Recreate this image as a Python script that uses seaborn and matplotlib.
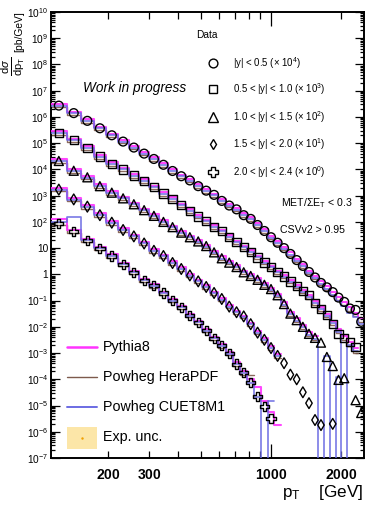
import numpy as np
import matplotlib
matplotlib.use("Agg")
import matplotlib.pyplot as plt
import seaborn as sns
from matplotlib.lines import Line2D
from matplotlib.patches import Rectangle
from matplotlib.ticker import FixedLocator, FixedFormatter, NullFormatter

nan = float("nan")

# ---------------- data ----------------
PT_EDGES = [114, 133, 153, 174, 196, 220, 245, 272, 300, 330, 362, 395, 430, 468, 507,
            548, 592, 638, 686, 737, 790, 846, 905, 967, 1032, 1101, 1172, 1248, 1327,
            1410, 1497, 1588, 1684, 1784, 1890, 2000, 2116, 2238, 2366, 2500]

RAPIDITY_LABELS = ["|y| < 0.5 (× 10$^{4}$)", "0.5 < |y| < 1.0 (× 10$^{3}$)",
                   "1.0 < |y| < 1.5 (× 10$^{2}$)", "1.5 < |y| < 2.0 (× 10$^{1}$)",
                   "2.0 < |y| < 2.4 (× 10$^{0}$)"]
SCALES = [1e4, 1e3, 1e2, 1e1, 1e0]

# measured cross sections, pb/GeV (unscaled)
DATA_Y0 = [2.7e2, 1.4e2, 7.1e1, 3.7e1, 2.0e1, 1.15e1, 6.8, 4.0, 2.5, 1.5, 8.7e-1, 5.5e-1,
           3.8e-1, 2.3e-1, 1.55e-1, 1.07e-1, 6.3e-2, 4.2e-2, 3.0e-2, 1.8e-2, 1.3e-2, 7.6e-3,
           4.5e-3, 2.6e-3, 1.6e-3, 1.0e-3, 6.0e-4, 3.5e-4, 2.1e-4, 1.23e-4, 7.6e-5, 4.7e-5,
           3.2e-5, 2.1e-5, 1.3e-5, 8.9e-6, 5.0e-6, 4.4e-6, 1.55e-6]
DATA_Y1 = [2.5e2, 1.3e2, 6.5e1, 3.1e1, 1.6e1, 1.0e1, 5.8, 3.7, 2.1, 1.2, 7.4e-1, 4.3e-1,
           2.6e-1, 1.6e-1, 1.05e-1, 6.3e-2, 4.4e-2, 2.7e-2, 1.7e-2, 1.1e-2, 7.1e-3, 4.4e-3,
           2.8e-3, 1.9e-3, 1.23e-3, 8.3e-4, 5.4e-4, 3.5e-4, 2.3e-4, 1.6e-4, 8.1e-5, 4.8e-5,
           2.8e-5, 1.3e-5, 5.4e-6, 3.8e-6, 2.6e-6, 1.7e-6]
DATA_Y2 = [2.1e2, 8.9e1, 5.0e1, 2.3e1, 1.3e1, 7.9, 4.7, 2.8, 1.7, 1.0, 6.3e-1, 3.9e-1,
           2.6e-1, 1.8e-1, 1.2e-1, 6.9e-2, 4.1e-2, 2.8e-2, 1.9e-2, 1.2e-2, 8.7e-3, 6.2e-3,
           4.0e-3, 2.75e-3, 1.6e-3, 7.4e-4, 3.2e-4, 1.8e-4, 1.0e-4, 5.4e-5, 3.8e-5, 2.5e-5,
           7.1e-6, 3.2e-6, 9.5e-7, 1.1e-6, nan, 1.6e-7, 5.2e-8]
DATA_Y3 = [1.7e2, 7.2e1, 3.8e1, 1.8e1, 9.3, 4.9, 2.8, 1.5, 7.9e-1, 5.0e-1, 2.7e-1, 1.6e-1,
           9.1e-2, 5.4e-2, 3.3e-2, 1.95e-2, 1.15e-2, 5.9e-3, 3.6e-3, 2.5e-3, 1.26e-3, 6.0e-4,
           3.2e-4, 1.55e-4, 7.8e-5, 4.1e-5, 1.5e-5, 1.0e-5, 3.2e-6, 1.23e-6, 2.8e-7, 1.8e-7,
           nan, 2.0e-7]
DATA_Y4 = [8.9e1, 4.3e1, 2.0e1, 1.0e1, 5.0, 2.4, 1.2, 6.0e-1, 3.7e-1, 1.95e-1, 1.0e-1,
           5.6e-2, 2.75e-2, 1.5e-2, 7.2e-3, 3.6e-3, 1.9e-3, 9.8e-4, 3.8e-4, 1.8e-4, 7.4e-5,
           2.2e-5, 9.5e-6, 3.3e-6]

# predictions, pb/GeV (unscaled); 0 = empty bin
PYTHIA_Y0 = [3.1e2, 1.6e2, 8.2e1, 4.3e1, 2.3e1, 1.3e1, 7.8, 4.6, 2.9, 1.7, 1.0, 6.3e-1,
             4.3e-1, 2.7e-1, 1.8e-1, 1.2e-1, 7.3e-2, 4.8e-2, 3.4e-2, 2.1e-2, 1.5e-2, 8.7e-3,
             5.2e-3, 3.0e-3, 1.85e-3, 1.15e-3, 6.9e-4, 4.0e-4, 2.4e-4, 1.4e-4, 8.7e-5, 5.4e-5,
             3.5e-5, 2.2e-5, 1.4e-5, 9.0e-6, 5.5e-6, 3.5e-6, 2.1e-6]
HERA_Y0 = [2.3e2, 1.2e2, 6.0e1, 3.1e1, 1.7e1, 9.8, 5.8, 3.4, 2.1, 1.28, 7.4e-1, 4.7e-1,
           3.2e-1, 2.0e-1, 1.3e-1, 9.0e-2, 5.4e-2, 3.6e-2, 2.5e-2, 1.55e-2, 1.1e-2, 6.5e-3,
           3.8e-3, 2.2e-3, 1.35e-3, 8.5e-4, 5.1e-4, 3.0e-4, 1.8e-4, 1.05e-4, 6.5e-5, 4.0e-5,
           2.6e-5, 1.7e-5, 1.05e-5, 6.5e-6, 4.0e-6, 2.5e-6, 1.5e-6]
CUET_Y0 = [2.7e2, 1.4e2, 7.0e1, 3.7e1, 2.0e1, 1.15e1, 6.7, 4.0, 2.5, 1.5, 8.7e-1, 5.5e-1,
           3.7e-1, 2.3e-1, 1.55e-1, 1.05e-1, 6.3e-2, 4.2e-2, 2.9e-2, 1.8e-2, 1.3e-2, 7.5e-3,
           4.4e-3, 2.5e-3, 1.5e-3, 9.5e-4, 5.7e-4, 3.3e-4, 2.0e-4, 1.15e-4, 7.0e-5, 4.2e-5,
           2.7e-5, 1.6e-5, 1.0e-5, 6.0e-6, 3.5e-6, 2.3e-6, 1.3e-6]

PYTHIA_Y1 = [2.9e2, 1.5e2, 7.5e1, 3.6e1, 1.85e1, 1.15e1, 6.7, 4.2, 2.4, 1.4, 8.5e-1, 5.0e-1,
             3.0e-1, 1.85e-1, 1.2e-1, 7.3e-2, 5.0e-2, 3.1e-2, 1.95e-2, 1.25e-2, 8.2e-3,
             5.1e-3, 3.2e-3, 2.1e-3, 1.4e-3, 9.3e-4, 6.0e-4, 3.9e-4, 2.5e-4, 1.6e-4, 9.5e-5,
             5.5e-5, 3.1e-5, 1.6e-5, 8.0e-6, 4.5e-6, 2.6e-6, 1.5e-6]
HERA_Y1 = [2.1e2, 1.1e2, 5.5e1, 2.6e1, 1.35e1, 8.5, 4.9, 3.1, 1.8, 1.0, 6.3e-1, 3.7e-1,
           2.2e-1, 1.35e-1, 9.0e-2, 5.4e-2, 3.7e-2, 2.3e-2, 1.45e-2, 9.3e-3, 6.0e-3, 3.7e-3,
           2.4e-3, 1.6e-3, 1.05e-3, 7.0e-4, 4.5e-4, 2.9e-4, 1.9e-4, 1.2e-4, 7.0e-5, 4.0e-5,
           2.3e-5, 1.2e-5, 6.0e-6, 3.2e-6, 1.8e-6, 1.0e-6]
CUET_Y1 = [2.5e2, 1.3e2, 6.4e1, 3.1e1, 1.6e1, 1.0e1, 5.7, 3.6, 2.1, 1.2, 7.3e-1, 4.3e-1,
           2.6e-1, 1.6e-1, 1.05e-1, 6.3e-2, 4.3e-2, 2.7e-2, 1.7e-2, 1.1e-2, 7.0e-3, 4.4e-3,
           2.8e-3, 1.85e-3, 1.2e-3, 8.0e-4, 5.2e-4, 3.4e-4, 2.2e-4, 1.4e-4, 8.0e-5, 4.6e-5,
           2.6e-5, 1.4e-5, 6.5e-6, 0, 2.0e-6, 1.2e-6]

PYTHIA_Y2 = [2.4e2, 1.0e2, 5.7e1, 2.7e1, 1.5e1, 9.0, 5.4, 3.2, 1.95, 1.15, 7.2e-1, 4.5e-1,
             3.0e-1, 2.0e-1, 1.35e-1, 8.0e-2, 4.8e-2, 3.2e-2, 2.2e-2, 1.4e-2, 1.0e-2, 7.0e-3,
             4.6e-3, 3.1e-3, 1.85e-3, 8.5e-4, 3.8e-4, 2.1e-4, 1.2e-4, 6.3e-5, 4.3e-5]
HERA_Y2 = [1.8e2, 7.6e1, 4.2e1, 2.0e1, 1.1e1, 6.7, 4.0, 2.4, 1.45, 8.5e-1, 5.4e-1, 3.3e-1,
           2.2e-1, 1.5e-1, 1.0e-1, 5.9e-2, 3.5e-2, 2.4e-2, 1.6e-2, 1.0e-2, 7.4e-3, 5.3e-3,
           3.4e-3, 2.3e-3, 1.35e-3, 6.3e-4, 2.7e-4, 1.5e-4, 8.5e-5, 4.6e-5, 3.2e-5]
CUET_Y2 = [2.1e2, 8.8e1, 4.9e1, 2.3e1, 1.3e1, 7.8, 4.6, 2.8, 1.7, 1.0, 6.2e-1, 3.9e-1,
           2.6e-1, 1.75e-1, 1.15e-1, 6.8e-2, 4.0e-2, 2.7e-2, 1.85e-2, 1.2e-2, 8.5e-3, 6.0e-3,
           3.9e-3, 2.6e-3, 1.5e-3, 7.0e-4, 3.0e-4, 1.7e-4, 9.5e-5, 5.0e-5, 3.5e-5, 0, 8.0e-6,
           0, 1.2e-6]

PYTHIA_Y3 = [2.0e2, 8.3e1, 4.4e1, 2.1e1, 1.07e1, 5.6, 3.2, 1.75, 9.5e-1, 5.6e-1, 3.1e-1,
             1.85e-1, 1.05e-1, 6.2e-2, 3.8e-2, 2.2e-2, 1.3e-2, 6.8e-3, 4.1e-3, 2.7e-3,
             1.45e-3, 7.0e-4, 3.7e-4, 1.8e-4, 9.0e-5]
HERA_Y3 = [1.45e2, 6.1e1, 3.2e1, 1.55e1, 7.9, 4.2, 2.4, 1.3, 6.8e-1, 4.2e-1, 2.3e-1, 1.35e-1,
           7.7e-2, 4.6e-2, 2.8e-2, 1.65e-2, 9.8e-3, 5.0e-3, 3.1e-3, 2.1e-3, 1.05e-3, 5.1e-4,
           2.7e-4, 1.3e-4, 6.6e-5]
CUET_Y3 = [1.7e2, 7.1e1, 3.8e1, 1.8e1, 9.2, 4.9, 2.8, 1.5, 8.0e-1, 4.9e-1, 2.7e-1, 1.6e-1,
           9.0e-2, 5.4e-2, 3.3e-2, 1.9e-2, 1.1e-2, 5.9e-3, 3.6e-3, 2.4e-3, 1.25e-3, 6.0e-4,
           3.2e-4, 1.55e-4, 7.5e-5]

PYTHIA_Y4 = [1.25e2, 5.0e1, 2.3e1, 1.15e1, 5.8, 2.8, 1.4, 6.9e-1, 4.2e-1, 2.2e-1, 1.15e-1,
             6.4e-2, 3.2e-2, 1.7e-2, 8.3e-3, 4.1e-3, 2.2e-3, 1.1e-3, 4.4e-4, 2.1e-4, 1.0e-4,
             5.2e-5, 1.55e-5, 5.9e-6, 1.8e-6]
HERA_Y4 = [7.6e1, 3.7e1, 1.7e1, 8.5, 4.3, 2.0, 1.0, 5.1e-1, 3.1e-1, 1.65e-1, 8.5e-2, 4.8e-2,
           2.3e-2, 1.3e-2, 6.1e-3, 3.1e-3, 1.6e-3, 8.3e-4, 3.2e-4, 1.5e-4, 1.4e-4]
CUET_Y4 = [1.0e2, 1.6e2, 2.0e1, 1.0e1, 5.0, 2.4, 1.2, 6.0e-1, 3.7e-1, 1.9e-1, 1.0e-1, 5.5e-2,
           2.7e-2, 1.5e-2, 7.1e-3, 3.6e-3, 1.9e-3, 9.5e-4, 3.8e-4, 1.8e-4, 7.5e-5, 2.2e-5, 0,
           1.55e-5]

DATA = [DATA_Y0, DATA_Y1, DATA_Y2, DATA_Y3, DATA_Y4]
PYTHIA = [PYTHIA_Y0, PYTHIA_Y1, PYTHIA_Y2, PYTHIA_Y3, PYTHIA_Y4]
HERA = [HERA_Y0, HERA_Y1, HERA_Y2, HERA_Y3, HERA_Y4]
CUET = [CUET_Y0, CUET_Y1, CUET_Y2, CUET_Y3, CUET_Y4]

MC_LABELS = ["Pythia8", "Powheg HeraPDF", "Powheg CUET8M1"]

# ---------------- style ----------------
sns.set_theme(style="ticks")
plt.rcParams["font.family"] = ["Liberation Sans", "DejaVu Sans"]
plt.rcParams["mathtext.fontset"] = "custom"
plt.rcParams["mathtext.rm"] = "Liberation Sans"
plt.rcParams["mathtext.it"] = "Liberation Sans:italic"
plt.rcParams["mathtext.bf"] = "Liberation Sans:bold"
plt.rcParams["mathtext.sf"] = "Liberation Sans"

C_PY = "#ff33ff"
C_HERA = "#7d5a4c"
C_CUET = "#6b6be3"
C_UNC = "#fce6a8"

MARKERS = ["o", "s", "^", "d", "P"]
SIZES = [40, 36, 42, 30, 44]

W, H = 367, 507
fig = plt.figure(figsize=(W / 100, H / 100), dpi=100)
fig.patch.set_facecolor("white")
ax = fig.add_axes([51 / W, (H - 458) / H, 313 / W, 446 / H])
ax.set_facecolor("white")
ax.set_xscale("log")
ax.set_yscale("log")

edges = np.array(PT_EDGES, float)
centers = np.sqrt(edges[:-1] * edges[1:])


def steps(vals):
    v = np.array(vals, float)
    v[v == 0] = 1e-30
    x = edges[: len(v) + 1]
    y = np.append(v, v[-1])
    return x, y


for i in range(5):
    sc = SCALES[i]
    for vals, col, lw, z in [(HERA[i], C_HERA, 1.0, 2), (PYTHIA[i], C_PY, 1.5, 3),
                             (CUET[i], C_CUET, 1.2, 4)]:
        x, y = steps(vals)
        sns.lineplot(x=x, y=y * sc, drawstyle="steps-post", estimator=None, sort=False,
                     color=col, linewidth=lw, ax=ax, zorder=z, legend=False, alpha=0.9)
    d = np.array(DATA[i], float) * sc
    sns.scatterplot(x=centers[: len(d)], y=d, marker=MARKERS[i], s=SIZES[i],
                    facecolor="none", edgecolor="black", linewidth=1.0, ax=ax, zorder=6,
                    legend=False)

ax.set_xlim(114, 2500)
ax.set_ylim(1e-7, 1e10)
ax.set_xlabel("")
ax.set_ylabel("")

# x ticks
ax.xaxis.set_major_locator(FixedLocator([1000]))
ax.xaxis.set_major_formatter(FixedFormatter([r"$\mathbf{1000}$"]))
minor_x = [200, 300, 400, 500, 600, 700, 800, 900, 2000]
minor_lbl = [r"$\mathbf{200}$", r"$\mathbf{300}$", "", "", "", "", "", "", r"$\mathbf{2000}$"]
ax.xaxis.set_minor_locator(FixedLocator(minor_x))
ax.xaxis.set_minor_formatter(FixedFormatter(minor_lbl))

# y ticks
ymaj = [10.0 ** k for k in range(-7, 11)]
ylbl = []
for k in range(-7, 11):
    if k == 0:
        ylbl.append("1")
    elif k == 1:
        ylbl.append("10")
    else:
        ylbl.append(r"$10^{%d}$" % k)
ax.yaxis.set_major_locator(FixedLocator(ymaj))
ax.yaxis.set_major_formatter(FixedFormatter(ylbl))
ymin = [m * 10.0 ** k for k in range(-7, 10) for m in range(2, 10)]
ax.yaxis.set_minor_locator(FixedLocator(ymin))
ax.yaxis.set_minor_formatter(NullFormatter())

ax.tick_params(which="both", direction="in", top=True, right=True, color="black",
               width=0.9, labelcolor="black")
ax.tick_params(axis="x", which="major", length=10, labelsize=10, pad=7.5)
ax.tick_params(axis="x", which="minor", length=5, labelsize=10, pad=7.5)
ax.tick_params(axis="y", which="major", length=6.5, labelsize=7.3, pad=2)
ax.tick_params(axis="y", which="minor", length=3.2)
for s in ax.spines.values():
    s.set_linewidth(1.4)
    s.set_color("black")

# ---------------- texts ----------------
def fx(px):
    return px / W


def fy(py):
    return 1 - py / H


fig.text(fx(13), fy(66), r"$\frac{\mathrm{d}\sigma}{\mathrm{dp}_{\mathrm{T}}}$",
         rotation=90, ha="center", va="center", fontsize=11.5, color="black")
fig.text(fx(19), fy(11), "[pb/GeV]", rotation=90, ha="center", va="top", fontsize=7.4,
         color="black")
fig.text(fx(363), fy(493), r"p$_{\mathrm{T}}$    [GeV]", ha="right", va="center",
         fontsize=12.3, color="black")
fig.text(fx(83), fy(88), "Work in progress", style="italic", ha="left", va="center",
         fontsize=9.8, color="black")
fig.text(fx(196), fy(35), "Data", ha="left", va="center", fontsize=7.3, color="black")

row_y = [62.7, 89.3, 116.7, 144, 171.7]
for i in range(5):
    fig.add_artist(Line2D([fx(213.3)], [fy(row_y[i])], marker=MARKERS[i],
                          markersize=np.sqrt(SIZES[i]), markerfacecolor="none",
                          markeredgecolor="black", markeredgewidth=1.0, linestyle="",
                          transform=fig.transFigure))
    fig.text(fx(233.3), fy(row_y[i]), RAPIDITY_LABELS[i], ha="left", va="center",
             fontsize=6.9, color="black")

fig.text(fx(281), fy(203), r"MET/ΣE$_{\mathrm{T}}$ < 0.3", ha="left", va="center",
         fontsize=7.6, color="black")
fig.text(fx(279.5), fy(230), "CSVv2 > 0.95", ha="left", va="center", fontsize=7.6,
         color="black")

# MC legend
mc_rows = [346.7, 377, 407]
for lbl, col, lw, yy in zip(MC_LABELS, [C_PY, C_HERA, C_CUET], [1.8, 1.0, 1.4], mc_rows):
    fig.add_artist(Line2D([fx(67), fx(97)], [fy(yy), fy(yy)], color=col, linewidth=lw,
                          transform=fig.transFigure))
    fig.text(fx(103), fy(yy), lbl, ha="left", va="center", fontsize=10.3, color="black")
fig.add_artist(Rectangle((fx(67), fy(449)), fx(97) - fx(67), fy(427) - fy(449),
                         facecolor=C_UNC, edgecolor="none", transform=fig.transFigure))
fig.add_artist(Line2D([fx(82)], [fy(438)], marker=".", markersize=1.5, color="#f0a000",
                      linestyle="", transform=fig.transFigure))
fig.text(fx(103), fy(437), "Exp. unc.", ha="left", va="center", fontsize=10.3,
         color="black")

fig.savefig("out.png", dpi=100, facecolor="white")
